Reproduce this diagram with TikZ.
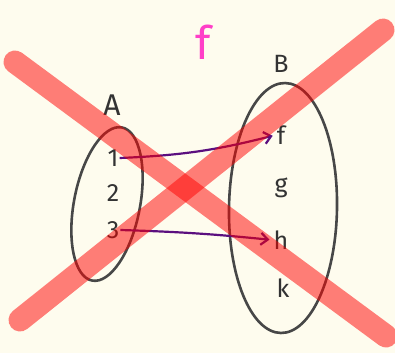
\documentclass[tikz,border=0pt]{standalone}
\usepackage{fontspec}
\setmainfont{Fira Sans}
\usetikzlibrary{arrows.meta,positioning,shapes.geometric}
\definecolor{paperbg}{HTML}{FEFCEE}
\definecolor{setline}{HTML}{474747}
\definecolor{elemtext}{HTML}{333333}
\definecolor{mapviolet}{HTML}{5B0F7F}
\definecolor{titlepink}{HTML}{FF3FC8}
\definecolor{crossred}{HTML}{FF0000}
\tikzset{
  setoval/.style={
    draw=setline,
    ellipse,
    line width=2.6pt,
    inner sep=0pt
  },
  elem/.style={text=elemtext, inner sep=1pt, font=\fontsize{25}{28}\selectfont},
  setname/.style={text=elemtext, inner sep=1pt, font=\fontsize{30}{32}\selectfont},
  titlef/.style={text=titlepink, inner sep=1pt, font=\fontsize{46}{48}\selectfont},
  maparrow/.style={-{Straight Barb[length=7pt,width=12pt]}, line width=2.2pt, draw=mapviolet, shorten >=3pt},
  crossbar/.style={draw=crossred, opacity=0.5, line width=23pt, line cap=round}
}
\begin{document}
\begin{tikzpicture}[x=1pt, y=-1pt]
  \useasboundingbox[fill=paperbg] (0,0) rectangle (395,353);
  \node[titlef] (title) at (203,42) {f};
  % the two sets
  \node[setoval, minimum width=66pt, minimum height=156pt, rotate=-11] (setA) at (107,204) {};
  \node[setoval, minimum width=108pt, minimum height=250pt, rotate=-1] (setB) at (283,208) {};
  \node[setname] (nameA) at (112,105) {A};
  \node[setname, font=\fontsize{25}{28}\selectfont] (nameB) at (281,64) {B};
  \node[elem] (one) at (113,158) {1};
  \node[elem] (two) at (113,193) {2};
  \node[elem] (three) at (113,230) {3};
  \node[elem] (ef) at (281,135) {f};
  \node[elem] (gee) at (281,188) {g};
  \node[elem] (aitch) at (281,240) {h};
  \node[elem] (kay) at (283,288) {k};
  \draw[maparrow] (one.east) to[bend right=6] (ef.west);
  \draw[maparrow] (three.east) to[bend left=2] (aitch.west);
  % big cross on top
  \coordinate (xa) at (15,62);
  \coordinate (xb) at (386,336);
  \coordinate (xc) at (20,320);
  \coordinate (xd) at (383,30);
  \draw[crossbar] (xa) -- (xb);
  \draw[crossbar] (xc) -- (xd);
\end{tikzpicture}
\end{document}
